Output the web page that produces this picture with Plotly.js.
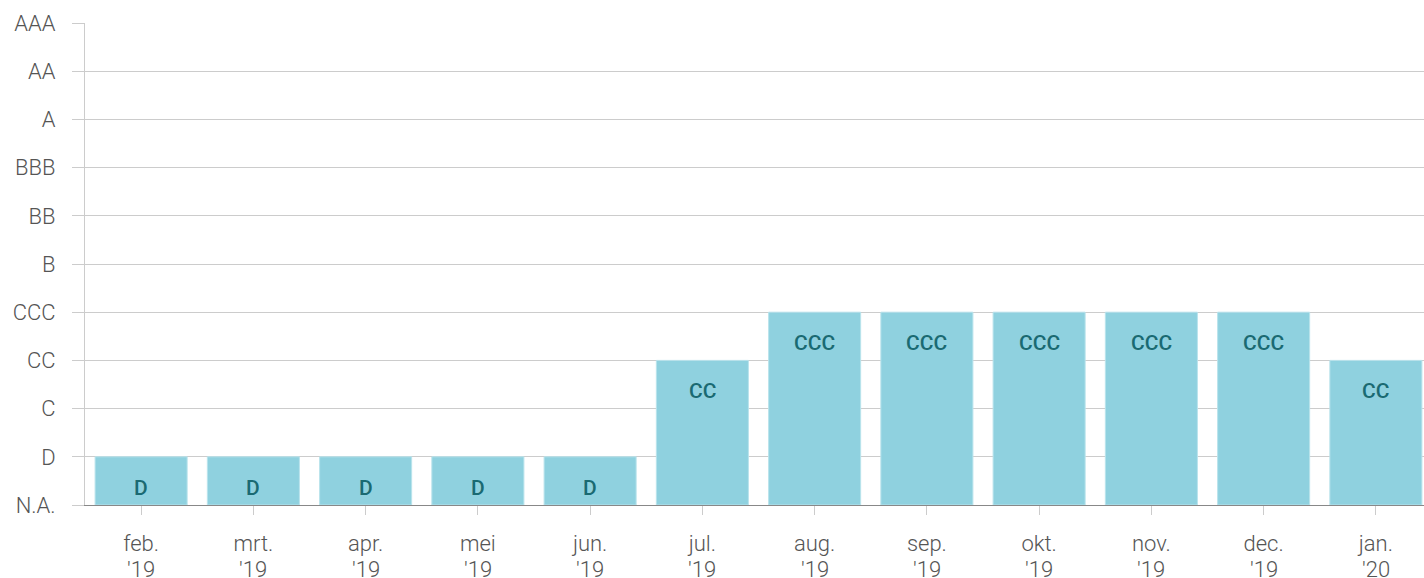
<!DOCTYPE html>
<html><head><meta charset="utf-8">
<script src="https://cdn.plot.ly/plotly-3.0.1.min.js"></script>
<style>html,body{margin:0;padding:0;overflow:hidden;background:#fff}</style>
</head><body><div id="chart"></div>
<script>
const monthLabels = ["feb.","mrt.","apr.","mei","jun.","jul.","aug.","sep.","okt.","nov.","dec.","jan."];
const yearLabels = ["'19","'19","'19","'19","'19","'19","'19","'19","'19","'19","'19","'20"];
const ratingScale = ["N.A.","D","C","CC","CCC","B","BB","BBB","A","AA","AAA"];
const ratings = ["D","D","D","D","D","CC","CCC","CCC","CCC","CCC","CCC","CC"];
const categories = monthLabels.map((m, i) => m + ' ' + yearLabels[i]);
const values = ratings.map(r => ratingScale.indexOf(r));
const yIdx = ratingScale.map((_, i) => i);

const trace = {
  type: 'bar', x: categories, y: values,
  marker: {color: '#8fd1df', line: {color: '#b9e3ec', width: 1}},
  hoverinfo: 'none'
};
const barLabels = categories.map((c, i) => ({
  x: c, y: values[i], xref: 'x', yref: 'y', text: ratings[i], showarrow: false,
  yshift: -31, font: {family: 'Roboto', size: 21, color: '#1a6a72', weight: 500}
}));
const yearAnn = categories.map((c, i) => ({
  x: c, y: 0, xref: 'x', yref: 'paper', yanchor: 'top', text: yearLabels[i], showarrow: false,
  yshift: -50, font: {family: 'Roboto', size: 22, color: '#555', weight: 300}
}));
const layout = {
  width: 1432, height: 578,
  margin: {l: 85, r: 0, t: 23, b: 73},
  paper_bgcolor: '#fff', plot_bgcolor: '#fff',
  bargap: 0.18, showlegend: false,
  font: {family: 'Roboto', size: 22, color: '#555', weight: 300},
  xaxis: {type: 'category', tickvals: categories, ticktext: monthLabels,
    ticks: 'outside', ticklen: 9, tickcolor: '#ccc', ticklabelstandoff: 10,
    showline: true, linecolor: '#888', linewidth: 1, showgrid: false,
    tickfont: {family: 'Roboto', size: 22, color: '#555', weight: 300}},
  yaxis: {range: [0, 10], tickvals: yIdx, ticktext: ratingScale, ticks: 'outside', ticklen: 12, tickcolor: '#ccc',
    showgrid: true, gridcolor: '#ccc', gridwidth: 1, zeroline: false,
    showline: true, linecolor: '#ccc', linewidth: 1, ticklabelstandoff: 12,
    tickfont: {family: 'Roboto', size: 22, color: '#555', weight: 300}},
  annotations: barLabels.concat(yearAnn)
};
Plotly.newPlot('chart', [trace], layout, {displayModeBar: false, staticPlot: true});
</script></body></html>
